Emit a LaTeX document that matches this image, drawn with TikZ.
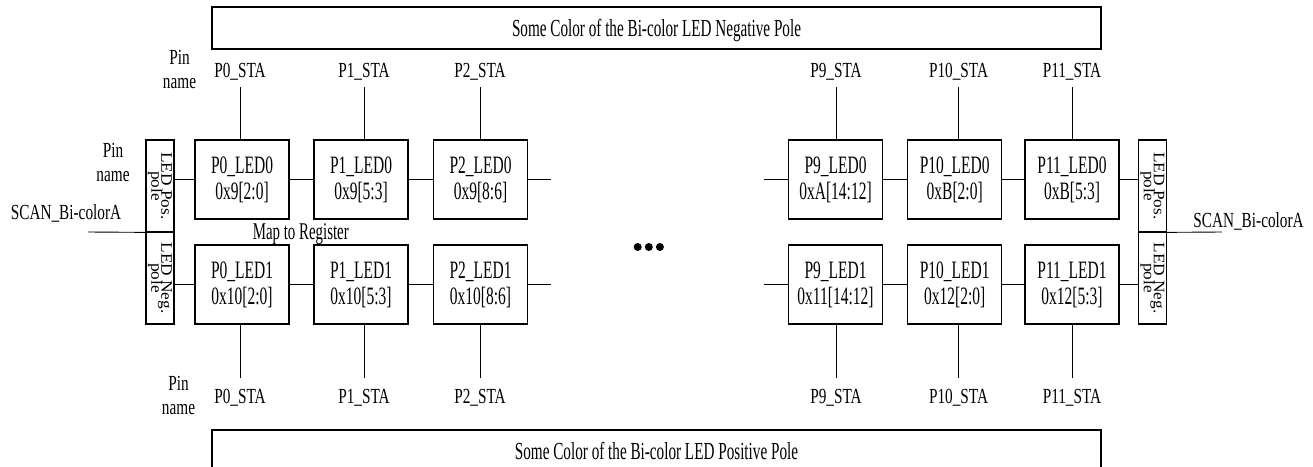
\documentclass[tikz,border=0pt]{standalone}
\usepackage{fontspec}
\setmainfont{Liberation Serif}[FakeStretch=0.62]
\newfontfamily\stafont{Liberation Serif}[FakeStretch=0.71]
\newfontfamily\polefont{Liberation Serif}[FakeStretch=1.08]
\newcommand\tightpole{\polefont\fontsize{16pt}{10pt}\selectfont\setlength{\lineskiplimit}{-20pt}\relax}
\begin{document}
\begin{tikzpicture}[x=1pt,y=-1pt,
  ledbox/.style={draw, line width=1.1pt, minimum width=94pt, minimum height=79pt, inner sep=0pt, align=center, font=\fontsize{25pt}{26pt}\selectfont},
  polebox/.style={draw, line width=1.1pt, minimum width=28pt, minimum height=92pt, inner sep=0pt},
  poletext/.style={rotate=-90, align=center, inner sep=0pt, font=\tightpole},
  stat/.style={anchor=base, inner sep=1pt, text height=15pt, text depth=4pt, outer sep=5pt, font=\stafont\fontsize{21.5pt}{24pt}\selectfont},
  stab/.style={stat, outer sep=9pt},
  pinlbl/.style={align=center, inner sep=0pt, font=\stafont\fontsize{21.5pt}{24pt}\selectfont},
  txt/.style={anchor=base, inner sep=0pt, font=\stafont\fontsize{21.5pt}{24pt}\selectfont},
  maptxt/.style={anchor=base, inner sep=0pt, font=\fontsize{24pt}{26pt}\selectfont},
  wide/.style={draw, line width=1.1pt, minimum width=889pt, minimum height=42pt, inner sep=0pt, text depth=0pt, font=\fontsize{24.5pt}{26pt}\selectfont},
  wire/.style={line width=0.9pt}]
\useasboundingbox (0,0) rectangle (1313,466);

% wide pole bars
\node[wide] (neg) at (656.5,28) {Some Color of the Bi-color LED Negative Pole};
\node[wide] (pos) at (656.5,451) {Some Color of the Bi-color LED Positive Pole};

% LED boxes row 0
\node[ledbox] (a0)  at (242,179.5)   {P0\_LED0\\0x9[2:0]};
\node[ledbox] (a1)  at (361,179.5)   {P1\_LED0\\0x9[5:3]};
\node[ledbox] (a2)  at (480.5,179.5) {P2\_LED0\\0x9[8:6]};
\node[ledbox] (a9)  at (835.5,179.5) {P9\_LED0\\0xA[14:12]};
\node[ledbox] (a10) at (954.7,179.5) {P10\_LED0\\0xB[2:0]};
\node[ledbox] (a11) at (1072,179.5)  {P11\_LED0\\0xB[5:3]};
% LED boxes row 1
\node[ledbox] (b0)  at (242,284.5)   {P0\_LED1\\0x10[2:0]};
\node[ledbox] (b1)  at (361,284.5)   {P1\_LED1\\0x10[5:3]};
\node[ledbox] (b2)  at (480.5,284.5) {P2\_LED1\\0x10[8:6]};
\node[ledbox] (b9)  at (835.5,284.5) {P9\_LED1\\0x11[14:12]};
\node[ledbox] (b10) at (954.7,284.5) {P10\_LED1\\0x12[2:0]};
\node[ledbox] (b11) at (1072,284.5)  {P11\_LED1\\0x12[5:3]};

% pole boxes
\node[polebox] (lpa) at (160,186) {};
\node[polebox] (lpb) at (160,278) {};
\node[polebox] (rpa) at (1152.5,186) {};
\node[polebox] (rpb) at (1152.5,278) {};
\node[poletext] (lpat) at (160,186) {LED Pos.\\pole};
\node[poletext] (lpbt) at (160,278) {LED Neg.\\pole};
\node[poletext] (rpat) at (1152.5,186) {LED Pos.\\pole};
\node[poletext] (rpbt) at (1152.5,278) {LED Neg.\\pole};

% top pin labels
\node[stat] (t0)  at (240,77)    {P0\_STA};
\node[stat] (t1)  at (364,77)    {P1\_STA};
\node[stat] (t2)  at (480,77)    {P2\_STA};
\node[stat] (t9)  at (836,77)    {P9\_STA};
\node[stat] (t10) at (958.6,77)  {P10\_STA};
\node[stat] (t11) at (1072,77)   {P11\_STA};
% bottom pin labels
\node[stab] (u0)  at (240,403)   {P0\_STA};
\node[stab] (u1)  at (364,403)   {P1\_STA};
\node[stab] (u2)  at (480,403)   {P2\_STA};
\node[stab] (u9)  at (836,403)   {P9\_STA};
\node[stab] (u10) at (958.6,403) {P10\_STA};
\node[stab] (u11) at (1072,403)  {P11\_STA};

% other labels
\node[pinlbl] (pn1) at (179.5,69.4) {Pin\\name};
\node[pinlbl] (pn2) at (113,162.7)  {Pin\\name};
\node[pinlbl] (pn3) at (178.5,395.4) {Pin\\name};
\node[txt] (scanl) at (66,219)     {SCAN\_Bi-colorA};
\node[txt] (scanr) at (1248.5,227) {SCAN\_Bi-colorA};
\node[maptxt] (map) at (300.8,239.3)  {Map to Register};

% ellipsis dots
\fill (637.7,247) circle (4);
\fill (648.8,247) circle (4);
\fill (659.9,247) circle (4);

% vertical wires
\foreach \t/\b in {t0/a0,t1/a1,t2/a2,t9/a9,t10/a10,t11/a11}
  \draw[wire] (\t.south) -- (\t.south |- \b.north);
\foreach \u/\b in {u0/b0,u1/b1,u2/b2,u9/b9,u10/b10,u11/b11}
  \draw[wire] (\u.north) -- (\u.north |- \b.south);

% horizontal wires
\coordinate (sa) at (551,179.5);
\coordinate (sb) at (764,179.5);
\coordinate (sc) at (551,284.5);
\coordinate (sd) at (764,284.5);
\draw[wire] (a0.west) -- (a0.west -| lpa.east);
\draw[wire] (a0.east) -- (a1.west);
\draw[wire] (a1.east) -- (a2.west);
\draw[wire] (a2.east) -- (sa);
\draw[wire] (sb) -- (a9.west);
\draw[wire] (a9.east) -- (a10.west);
\draw[wire] (a10.east) -- (a11.west);
\draw[wire] (a11.east) -- (a11.east -| rpa.west);
\draw[wire] (b0.west) -- (b0.west -| lpb.east);
\draw[wire] (b0.east) -- (b1.west);
\draw[wire] (b1.east) -- (b2.west);
\draw[wire] (b2.east) -- (sc);
\draw[wire] (sd) -- (b9.west);
\draw[wire] (b9.east) -- (b10.west);
\draw[wire] (b10.east) -- (b11.west);
\draw[wire] (b11.east) -- (b11.east -| rpb.west);

% scan lines
\coordinate (scl) at (88,232);
\coordinate (scr) at (1222,232);
\draw[wire] (scl) -- (lpa.south east);
\draw[wire] (rpa.south west) -- (scr);
\end{tikzpicture}
\end{document}
